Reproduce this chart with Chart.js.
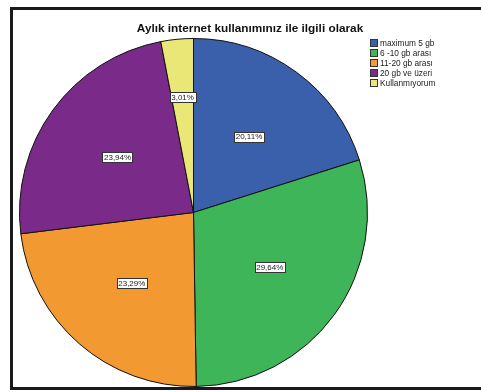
<!DOCTYPE html>
<html>
<head>
<meta charset="utf-8">
<script src="https://cdn.jsdelivr.net/npm/chart.js@4"></script>
<style>
  html, body { margin: 0; padding: 0; background: #fff; }
  canvas { display: block; }
</style>
</head>
<body>
<canvas id="pie-chart" width="481" height="392"></canvas>
<script>
const title = 'Aylık internet kullanımınız ile ilgili olarak'
const categories = ['maximum 5 gb', '6 -10 gb arası', '11-20 gb arası', '20 gb ve üzeri', 'Kullanmıyorum']
const percents = [20.11, 29.64, 23.29, 23.94, 3.01]
const sliceColors = ['#3a5fab', '#3eb559', '#f39932', '#7a2a88', '#ebe777']

const fmt = v => v.toFixed(2).replace('.', ',') + '%'

// outer frame, title and legend drawn by hand, SPSS style
const framePlugin = {
  id: 'frame',
  beforeDraw(chart) {
    const ctx = chart.ctx
    ctx.save()
    ctx.fillStyle = '#fff'
    ctx.fillRect(0, 0, chart.width, chart.height)
    ctx.strokeStyle = '#1a1a1a'
    ctx.lineWidth = 3
    ctx.strokeRect(11.5, 8.5, 520, 380)
    ctx.restore()
  },
  afterDraw(chart) {
    const ctx = chart.ctx
    ctx.save()
    ctx.fillStyle = '#111'
    ctx.font = 'bold 11.8px "Liberation Sans", Arial, sans-serif'
    ctx.textAlign = 'center'
    ctx.textBaseline = 'middle'
    ctx.fillText(title, 250, 29)

    ctx.font = '8.3px "Liberation Sans", Arial, sans-serif'
    ctx.textAlign = 'left'
    chart.data.labels.forEach((lab, i) => {
      const y = 43.5 + i * 10
      ctx.fillStyle = chart.data.datasets[0].backgroundColor[i]
      ctx.fillRect(370.5, y - 4, 7, 7)
      ctx.strokeStyle = '#333'
      ctx.lineWidth = 1
      ctx.strokeRect(370.5, y - 4, 7, 7)
      ctx.fillStyle = '#222'
      ctx.fillText(lab, 380, y)
    })
    ctx.restore()
  }
}

const valueLabels = {
  id: 'valueLabels',
  afterDatasetsDraw(chart) {
    const ctx = chart.ctx
    const meta = chart.getDatasetMeta(0)
    ctx.save()
    ctx.font = '8px "Liberation Sans", Arial, sans-serif'
    ctx.textAlign = 'center'
    ctx.textBaseline = 'middle'
    meta.data.forEach((arc, i) => {
      const p = arc.getProps(['x', 'y', 'startAngle', 'endAngle', 'outerRadius'], true)
      const v = chart.data.datasets[0].data[i]
      const mid = (p.startAngle + p.endAngle) / 2
      const k = v < 5 ? 0.665 : 0.54
      const x = p.x + Math.cos(mid) * p.outerRadius * k
      const y = p.y + Math.sin(mid) * p.outerRadius * k
      const txt = fmt(v)
      const w = ctx.measureText(txt).width + 3
      ctx.fillStyle = '#fff'
      ctx.fillRect(Math.round(x - w / 2) + 0.5, Math.round(y - 5) + 0.5, Math.round(w), 10)
      ctx.strokeStyle = '#333'
      ctx.lineWidth = 1
      ctx.strokeRect(Math.round(x - w / 2) + 0.5, Math.round(y - 5) + 0.5, Math.round(w), 10)
      ctx.fillStyle = '#222'
      ctx.fillText(txt, x, y + 0.5)
    })
    ctx.restore()
  }
}

new Chart(document.getElementById('pie-chart').getContext('2d'), {
  type: 'pie',
  data: {
    labels: categories,
    datasets: [{
      data: percents,
      backgroundColor: sliceColors,
      borderColor: '#111',
      borderWidth: 1
    }]
  },
  options: {
    responsive: false,
    animation: false,
    devicePixelRatio: 1,
    layout: { padding: { left: 19, right: 113, top: 38, bottom: 5 } },
    plugins: {
      legend: { display: false },
      title: { display: false },
      tooltip: { enabled: false }
    }
  },
  plugins: [framePlugin, valueLabels]
})
</script>
</body>
</html>
